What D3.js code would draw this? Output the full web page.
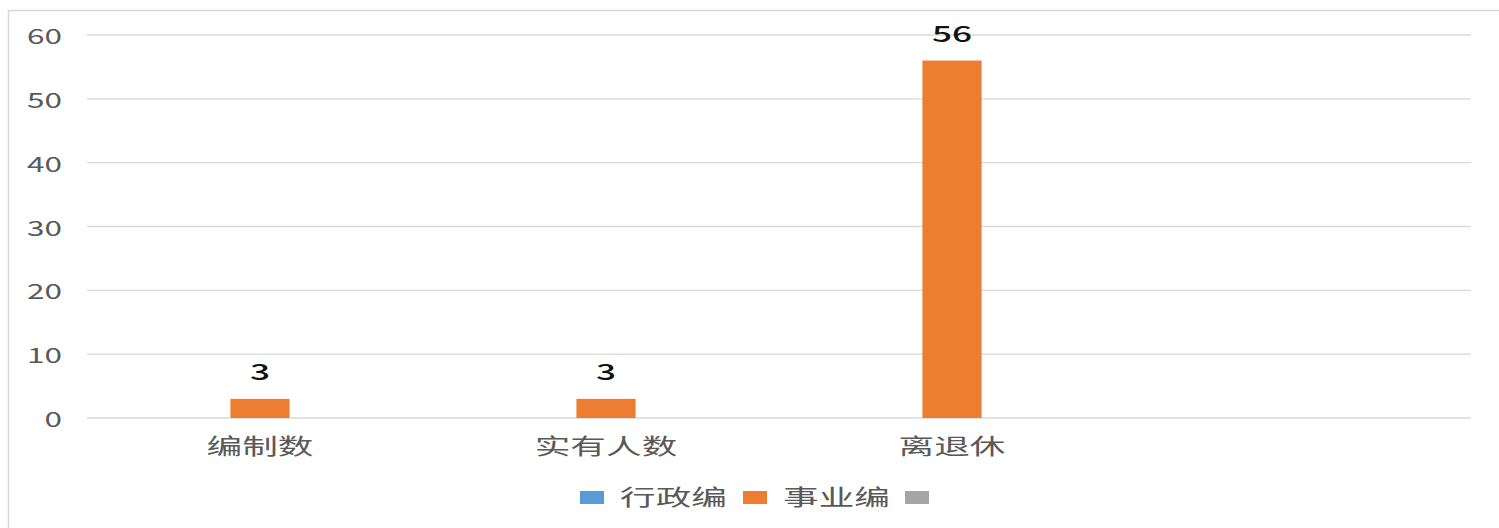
<!DOCTYPE html>
<html><head><meta charset="utf-8">
<script src="https://cdn.jsdelivr.net/npm/d3@7"></script>
<style>body{margin:0;background:#fff}svg{display:block}</style>
</head><body>
<svg id="c" width="1499" height="528"></svg>
<script>
const categories = ["编制数", "实有人数", "离退休", ""];
const seriesNames = ["行政编", "事业编", ""];
const series1 = [0, 0, 0, null];
const series2 = [3, 3, 56, null];
const series3 = [null, null, null, null];
const yTicks = [0, 10, 20, 30, 40, 50, 60];
const colors = ["#5B9BD5", "#ED7D31", "#A5A5A5"];

(function () {
const FONT = "'Noto Sans CJK SC','Noto Sans',sans-serif";
const SX = 1.5, SXC = 1.62;
const svg = d3.select("#c");
const W = 1499, H = 528;
const mLeft = 87, mRight = 1471, mTop = 35, mBottom = 418;

// outer frame
svg.append("rect").attr("x", 8.5).attr("y", 10.5).attr("width", W).attr("height", H)
  .attr("fill", "#fff").attr("stroke", "#D9D9D9").attr("stroke-width", 1.5);

const x = d3.scaleBand().domain(categories.map((d, i) => i)).range([mLeft, mRight]).padding(0);
const y = d3.scaleLinear().domain([0, 60]).range([mBottom, mTop]);

// gridlines
svg.append("g").selectAll("line").data(yTicks).join("line")
  .attr("x1", mLeft).attr("x2", mRight)
  .attr("y1", d => y(d)).attr("y2", d => y(d))
  .attr("stroke", "#D9D9D9").attr("stroke-width", 1.3);

// y labels
svg.append("g").selectAll("text").data(yTicks).join("text")
  .attr("transform", d => `translate(62,${y(d)}) scale(${SX},1)`)
  .attr("text-anchor", "end").attr("dominant-baseline", "central")
  .attr("font-family", FONT).attr("font-size", 21).attr("fill", "#595959")
  .text(d => d);

// bars
const bw = x.bandwidth() * 0.171;
const allSeries = [series1, series2, series3];
allSeries.forEach((s, si) => {
  svg.append("g").selectAll("rect")
    .data(s.map((v, i) => ({v, i})).filter(d => d.v != null && d.v > 0)).join("rect")
    .attr("x", d => x(d.i) + x.bandwidth() / 2 + (si - 1.5) * bw)
    .attr("y", d => y(d.v))
    .attr("width", bw)
    .attr("height", d => y(0) - y(d.v))
    .attr("fill", colors[si]);
});

// data labels for series2
svg.append("g").selectAll("text").data(series2.map((v, i) => ({v, i})).filter(d => d.v != null)).join("text")
  .attr("transform", d => `translate(${x(d.i) + x.bandwidth() / 2},${y(d.v) - 19}) scale(1.6,1)`)
  .attr("text-anchor", "middle")
  .attr("font-family", FONT).attr("font-size", 22).attr("font-weight", 500).attr("fill", "#111")
  .text(d => d.v);

// category labels
svg.append("g").selectAll("text").data(categories.map((c, i) => ({c, i}))).join("text")
  .attr("transform", d => `translate(${x(d.i) + x.bandwidth() / 2},454) scale(${SXC},1)`)
  .attr("text-anchor", "middle")
  .attr("font-family", FONT).attr("font-size", 22).attr("fill", "#595959")
  .text(d => d.c);

// legend
const legendX = [580, 743, 905];
seriesNames.forEach((n, i) => {
  svg.append("rect").attr("x", legendX[i]).attr("y", 491).attr("width", 24).attr("height", 13).attr("fill", colors[i]);
  if (n) svg.append("text")
    .attr("transform", `translate(${legendX[i] + 40},505) scale(${SXC},1)`)
    .attr("font-family", FONT).attr("font-size", 22).attr("fill", "#595959")
    .text(n);
});
})();
</script>
</body></html>
